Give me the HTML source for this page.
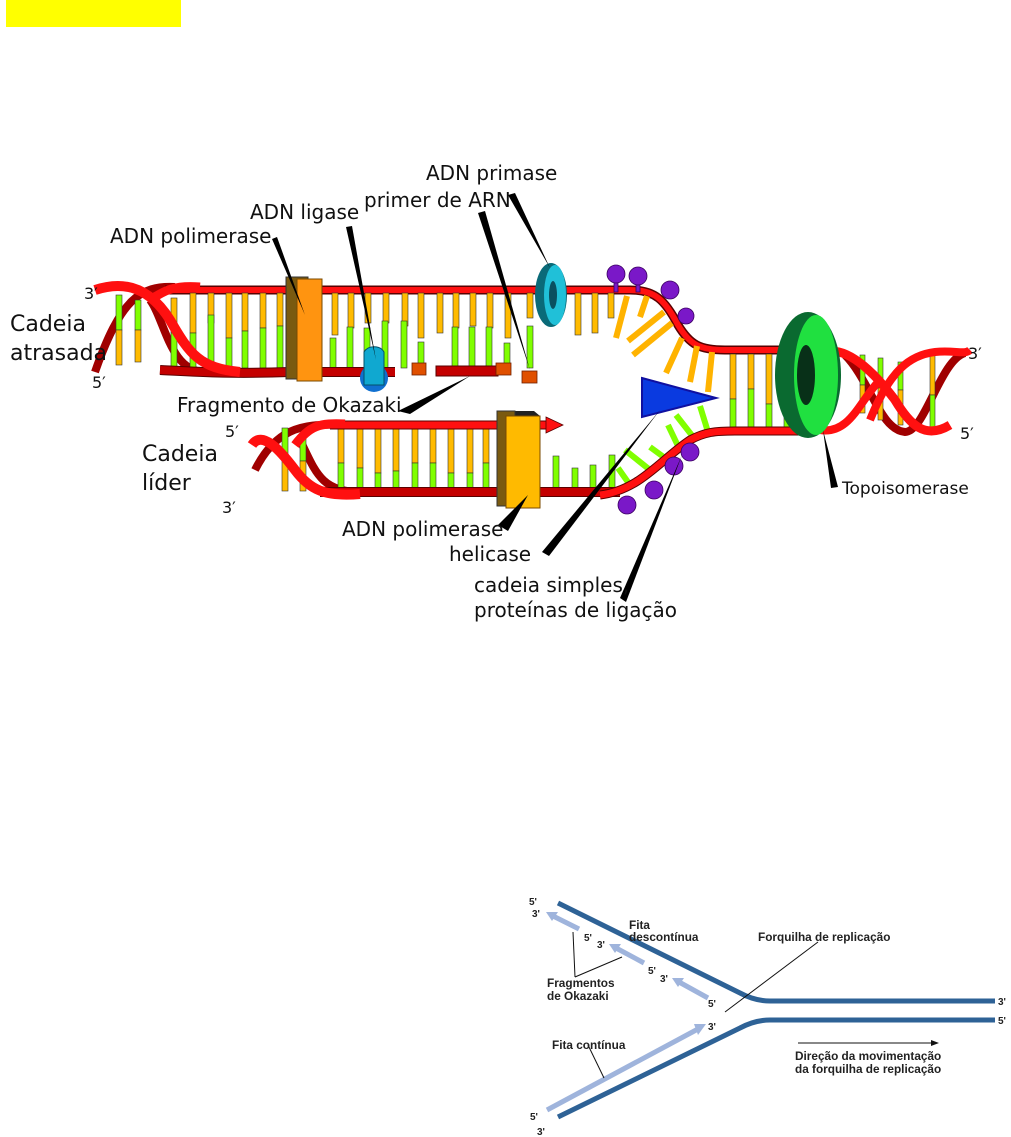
<!DOCTYPE html>
<html><head><meta charset="utf-8"><style>
html,body{margin:0;padding:0;background:#fff;}
svg{display:block;}
.t{font-family:"DejaVu Sans","Liberation Sans",sans-serif;font-size:20px;fill:#111;}
.b{font-family:"Liberation Sans",sans-serif;font-size:11.8px;font-weight:bold;fill:#222;}
</style></head><body>
<svg width="1011" height="1137" viewBox="0 0 1011 1137" xmlns="http://www.w3.org/2000/svg">
<rect x="6" y="0" width="175" height="27" fill="#ffff00"/>

<!-- ===== upper duplex (lagging) ===== -->
<path d="M95,372 C120,300 140,285 175,287" stroke="#a00000" stroke-width="8" fill="none"/>
<path d="M150,300 C165,320 170,372 205,372" stroke="#a00000" stroke-width="8" fill="none"/>
<g stroke="#333" stroke-width="0.6">
<rect x="116" y="295" width="6" height="35" fill="#80ff00"/><rect x="116" y="330" width="6" height="35" fill="#ffbb00"/>
<rect x="135" y="300" width="6" height="30" fill="#80ff00"/><rect x="135" y="330" width="6" height="32" fill="#ffbb00"/>
<rect x="171" y="298" width="6" height="35" fill="#ffbb00"/><rect x="171" y="333" width="6" height="35" fill="#80ff00"/>
</g>
<path d="M165,290 L630,290 C655,290 665,300 678,325 C690,345 700,350 725,350 L810,350" stroke="#5a0000" stroke-width="9" fill="none"/>
<path d="M165,290 L630,290 C655,290 665,300 678,325 C690,345 700,350 725,350 L810,350" stroke="#ff1010" stroke-width="6" fill="none"/>
<g stroke="#333" stroke-width="0.6">
<rect x="190" y="293" width="6" height="40" fill="#ffbb00"/><rect x="190" y="333" width="6" height="35" fill="#80ff00"/>
<rect x="208" y="293" width="6" height="30" fill="#ffbb00"/><rect x="208" y="315" width="6" height="53" fill="#80ff00"/>
<rect x="226" y="293" width="6" height="45" fill="#ffbb00"/><rect x="226" y="338" width="6" height="30" fill="#80ff00"/>
<rect x="242" y="293" width="6" height="38" fill="#ffbb00"/><rect x="242" y="331" width="6" height="37" fill="#80ff00"/>
<rect x="260" y="293" width="6" height="35" fill="#ffbb00"/><rect x="260" y="328" width="6" height="40" fill="#80ff00"/>
<rect x="277" y="293" width="6" height="33" fill="#ffbb00"/><rect x="277" y="326" width="6" height="42" fill="#80ff00"/>
<rect x="332" y="293" width="6" height="42" fill="#ffbb00"/><rect x="330" y="338" width="6" height="30" fill="#80ff00"/>
<rect x="348" y="293" width="6" height="35" fill="#ffbb00"/><rect x="347" y="327" width="6" height="41" fill="#80ff00"/>
<rect x="365" y="293" width="6" height="30" fill="#ffbb00"/><rect x="364" y="328" width="6" height="40" fill="#80ff00"/>
<rect x="383" y="293" width="6" height="30" fill="#ffbb00"/><rect x="382" y="321" width="6" height="47" fill="#80ff00"/>
<rect x="402" y="293" width="6" height="33" fill="#ffbb00"/><rect x="401" y="321" width="6" height="47" fill="#80ff00"/>
<rect x="418" y="293" width="6" height="45" fill="#ffbb00"/><rect x="418" y="342" width="6" height="26" fill="#80ff00"/>
<rect x="437" y="293" width="6" height="40" fill="#ffbb00"/>
<rect x="453" y="293" width="6" height="35" fill="#ffbb00"/><rect x="452" y="327" width="6" height="41" fill="#80ff00"/>
<rect x="470" y="293" width="6" height="33" fill="#ffbb00"/><rect x="469" y="327" width="6" height="41" fill="#80ff00"/>
<rect x="487" y="293" width="6" height="35" fill="#ffbb00"/><rect x="486" y="327" width="6" height="41" fill="#80ff00"/>
<rect x="505" y="293" width="6" height="45" fill="#ffbb00"/><rect x="504" y="343" width="6" height="25" fill="#80ff00"/>
<rect x="527" y="293" width="6" height="25" fill="#ffbb00"/><rect x="527" y="326" width="6" height="42" fill="#80ff00"/>
<rect x="575" y="293" width="6" height="42" fill="#ffbb00"/>
<rect x="592" y="293" width="6" height="40" fill="#ffbb00"/>
<rect x="608" y="293" width="6" height="25" fill="#ffbb00"/>
</g>
<g stroke="#ffb300" stroke-width="6" stroke-linecap="butt">
<line x1="627" y1="296" x2="616" y2="338"/>
<line x1="647" y1="296" x2="640" y2="317"/>
<line x1="664" y1="312" x2="628" y2="341"/>
<line x1="672" y1="323" x2="633" y2="355"/>
<line x1="682" y1="338" x2="666" y2="373"/>
<line x1="697" y1="346" x2="690" y2="382"/>
<line x1="712" y1="352" x2="708" y2="392"/>
</g>
<path d="M160,370 C200,372 230,374 290,372 L395,372" stroke="#5a0000" stroke-width="10" fill="none"/>
<path d="M160,370 C200,372 230,374 290,372 L395,372" stroke="#c40000" stroke-width="8" fill="none"/>
<rect x="436" y="366" width="62" height="10" fill="#c40000" stroke="#5a0000"/>
<path d="M95,290 C125,280 150,288 170,320 C190,355 200,368 240,372" stroke="#ff1010" stroke-width="10" fill="none"/>
<path d="M150,300 C165,290 175,285 200,287" stroke="#ff1010" stroke-width="9" fill="none"/>
<g stroke="#333" stroke-width="0.6">
<rect x="730" y="354" width="6" height="45" fill="#ffbb00"/><rect x="730" y="399" width="6" height="30" fill="#80ff00"/>
<rect x="748" y="354" width="6" height="35" fill="#ffbb00"/><rect x="748" y="389" width="6" height="40" fill="#80ff00"/>
<rect x="766" y="354" width="6" height="50" fill="#ffbb00"/><rect x="766" y="404" width="6" height="25" fill="#80ff00"/>
<rect x="784" y="354" width="6" height="50" fill="#ffbb00"/><rect x="784" y="404" width="6" height="25" fill="#80ff00"/>
<rect x="802" y="354" width="6" height="35" fill="#ffbb00"/><rect x="802" y="389" width="6" height="40" fill="#80ff00"/>
</g>

<!-- ===== lower duplex (leading) ===== -->
<path d="M255,470 C275,430 300,423 340,425" stroke="#a00000" stroke-width="8" fill="none"/>
<path d="M300,440 C315,470 320,492 360,492" stroke="#a00000" stroke-width="8" fill="none"/>
<g stroke="#333" stroke-width="0.6">
<rect x="282" y="428" width="6" height="30" fill="#80ff00"/><rect x="282" y="458" width="6" height="33" fill="#ffbb00"/>
<rect x="300" y="433" width="6" height="28" fill="#80ff00"/><rect x="300" y="461" width="6" height="30" fill="#ffbb00"/>
<rect x="338" y="428" width="6" height="35" fill="#ffbb00"/><rect x="338" y="463" width="6" height="28" fill="#80ff00"/>
<rect x="357" y="428" width="6" height="40" fill="#ffbb00"/><rect x="357" y="468" width="6" height="24" fill="#80ff00"/>
<rect x="375" y="428" width="6" height="45" fill="#ffbb00"/><rect x="375" y="473" width="6" height="19" fill="#80ff00"/>
<rect x="393" y="428" width="6" height="43" fill="#ffbb00"/><rect x="393" y="471" width="6" height="21" fill="#80ff00"/>
<rect x="412" y="428" width="6" height="35" fill="#ffbb00"/><rect x="412" y="463" width="6" height="29" fill="#80ff00"/>
<rect x="430" y="428" width="6" height="35" fill="#ffbb00"/><rect x="430" y="463" width="6" height="29" fill="#80ff00"/>
<rect x="448" y="428" width="6" height="45" fill="#ffbb00"/><rect x="448" y="473" width="6" height="19" fill="#80ff00"/>
<rect x="467" y="428" width="6" height="45" fill="#ffbb00"/><rect x="467" y="473" width="6" height="19" fill="#80ff00"/>
<rect x="483" y="428" width="6" height="35" fill="#ffbb00"/><rect x="483" y="463" width="6" height="29" fill="#80ff00"/>
<rect x="553" y="456" width="6" height="36" fill="#80ff00"/>
<rect x="572" y="468" width="6" height="24" fill="#80ff00"/>
<rect x="590" y="465" width="6" height="27" fill="#80ff00"/>
<rect x="609" y="455" width="6" height="37" fill="#80ff00"/>
</g>
<g stroke="#80ff00" stroke-width="6">
<line x1="630" y1="485" x2="618" y2="468"/>
<line x1="650" y1="470" x2="625" y2="450"/>
<line x1="665" y1="458" x2="650" y2="447"/>
<line x1="678" y1="446" x2="668" y2="425"/>
<line x1="694" y1="438" x2="676" y2="415"/>
<line x1="708" y1="432" x2="700" y2="406"/>
</g>
<path d="M320,492 L620,492" stroke="#5a0000" stroke-width="10" fill="none"/>
<path d="M320,492 L620,492" stroke="#c40000" stroke-width="8" fill="none"/>
<path d="M600,495 C640,490 660,460 690,440 C705,432 715,431 735,431 L810,431" stroke="#5a0000" stroke-width="9" fill="none"/>
<path d="M600,495 C640,490 660,460 690,440 C705,432 715,431 735,431 L810,431" stroke="#ff1010" stroke-width="7" fill="none"/>
<path d="M330,425 L548,425" stroke="#5a0000" stroke-width="9" fill="none"/>
<path d="M330,425 L548,425" stroke="#ff1010" stroke-width="7" fill="none"/>
<polygon points="546,417 563,425 546,433" fill="#ff1010" stroke="#5a0000" stroke-width="0.8"/>
<path d="M252,445 C262,430 280,450 295,470 C310,490 325,497 360,494" stroke="#ff1010" stroke-width="10" fill="none"/>
<path d="M295,445 C310,425 320,423 345,424" stroke="#ff1010" stroke-width="9" fill="none"/>

<!-- right helix -->
<path d="M845,355 C870,380 880,430 905,432 C925,432 940,360 965,353" stroke="#a00000" stroke-width="8" fill="none"/>
<g stroke="#333" stroke-width="0.6">
<rect x="860" y="355" width="5" height="30" fill="#80ff00"/><rect x="860" y="385" width="5" height="28" fill="#ffbb00"/>
<rect x="878" y="358" width="5" height="30" fill="#80ff00"/><rect x="878" y="388" width="5" height="32" fill="#ffbb00"/>
<rect x="898" y="362" width="5" height="28" fill="#80ff00"/><rect x="898" y="390" width="5" height="35" fill="#ffbb00"/>
<rect x="930" y="355" width="5" height="40" fill="#ffbb00"/><rect x="930" y="395" width="5" height="35" fill="#80ff00"/>
</g>
<path d="M825,352 C850,345 880,380 895,400 C910,425 925,440 950,425" stroke="#ff1010" stroke-width="9" fill="none"/>
<path d="M870,420 C890,370 910,355 935,352 C955,350 965,355 970,350" stroke="#ff1010" stroke-width="8" fill="none"/>
<path d="M820,430 C850,435 860,400 880,380" stroke="#ff1010" stroke-width="8" fill="none"/>

<!-- proteins -->
<rect x="286" y="277" width="22" height="102" fill="#7a5a10" stroke="#333"/>
<rect x="297" y="279" width="25" height="102" fill="#ff9410" stroke="#7a4a00"/>
<polygon points="497,411 534,411 540,416 503,416" fill="#222"/>
<rect x="497" y="411" width="18" height="95" fill="#7a5a10" stroke="#333"/>
<rect x="506" y="416" width="34" height="92" fill="#ffba00" stroke="#7a4a00"/>
<ellipse cx="374" cy="378" rx="14" ry="14" fill="#1070d0"/>
<path d="M364,352 C368,345 380,345 384,352 L384,385 L364,385 Z" fill="#10a8d0" stroke="#05506a"/>
<g fill="#e05000" stroke="#702000" stroke-width="0.8">
<rect x="412" y="363" width="14" height="12"/>
<rect x="496" y="363" width="15" height="12"/>
<rect x="522" y="371" width="15" height="12"/>
</g>
<ellipse cx="551" cy="295" rx="16" ry="32" fill="#0a6a78"/>
<ellipse cx="555" cy="295" rx="11" ry="30" fill="#20c0d8"/>
<ellipse cx="553" cy="295" rx="4" ry="14" fill="#0a5060"/>
<g fill="#7a18c8" stroke="#3a0060" stroke-width="0.8">
<rect x="614" y="280" width="4" height="12"/><rect x="636" y="282" width="4" height="10"/>
<circle cx="616" cy="274" r="9"/><circle cx="638" cy="276" r="9"/>
<circle cx="670" cy="290" r="9"/><circle cx="686" cy="316" r="8"/>
<circle cx="690" cy="452" r="9"/><circle cx="674" cy="466" r="9"/>
<circle cx="654" cy="490" r="9"/><circle cx="627" cy="505" r="9"/>
</g>
<ellipse cx="808" cy="375" rx="33" ry="63" fill="#0a6a30"/>
<ellipse cx="816" cy="375" rx="22" ry="60" fill="#20e040"/>
<ellipse cx="806" cy="375" rx="9" ry="30" fill="#083018"/>
<polygon points="642,378 716,398 642,417" fill="#0a3ae0" stroke="#1010a0" stroke-width="2"/>

<g fill="#000">
<polygon points="508,195 515,193 550,268"/>
<polygon points="478,213 485,211 530,370"/>
<polygon points="346,227 352,226 376,360"/>
<polygon points="272,239 277,237 305,315"/>
<polygon points="398,411 410,414 470,376"/>
<polygon points="498,525 508,531 528,495"/>
<polygon points="542,552 549,556 660,410"/>
<polygon points="620,598 626,602 682,455"/>
<polygon points="831,488 838,487 823,430"/>
</g>

<text class="t" x="426" y="180">ADN primase</text>
<text class="t" x="364" y="207">primer de ARN</text>
<text class="t" x="250" y="219">ADN ligase</text>
<text class="t" x="110" y="243">ADN polimerase</text>
<text class="t" x="177" y="412">Fragmento de Okazaki</text>
<text class="t" x="342" y="536">ADN polimerase</text>
<text class="t" x="449" y="561">helicase</text>
<text class="t" x="474" y="592">cadeia simples,</text>
<text class="t" x="474" y="617">proteínas de ligação</text>
<text class="t" x="842" y="494" style="font-size:17px">Topoisomerase</text>
<text class="t" x="84" y="299" style="font-size:16px">3′</text>
<text class="t" x="92" y="388" style="font-size:16px">5′</text>
<text class="t" x="10" y="331" style="font-size:22px">Cadeia</text>
<text class="t" x="10" y="360" style="font-size:22px">atrasada</text>
<text class="t" x="225" y="437" style="font-size:16px">5′</text>
<text class="t" x="222" y="513" style="font-size:16px">3′</text>
<text class="t" x="142" y="461" style="font-size:22px">Cadeia</text>
<text class="t" x="142" y="490" style="font-size:22px">líder</text>
<text class="t" x="968" y="359" style="font-size:16px">3′</text>
<text class="t" x="960" y="439" style="font-size:16px">5′</text>

<!-- ===== bottom schematic ===== -->
<g stroke="#2e6296" stroke-width="5" fill="none" stroke-linecap="butt">
<path d="M558,903 L740,993 Q755,1001 770,1001 L995,1001"/>
<path d="M558,1117 L740,1028 Q755,1020 770,1020 L995,1020"/>
</g>
<g stroke="#9fb4dc" stroke-width="5" fill="none">
<line x1="579" y1="929" x2="553" y2="916"/>
<line x1="644" y1="963" x2="616" y2="948"/>
<line x1="708" y1="998" x2="679" y2="982"/>
<line x1="547" y1="1110" x2="698" y2="1029"/>
</g>
<g fill="#9fb4dc">
<polygon points="546,912 558,912 552,921"/>
<polygon points="609,944 621,944 615,953"/>
<polygon points="672,978 684,978 678,987"/>
<polygon points="706,1024 698,1035 694,1024"/>
</g>
<g stroke="#111" stroke-width="1">
<line x1="573" y1="932" x2="575" y2="977"/>
<line x1="622" y1="957" x2="575" y2="977"/>
<line x1="818" y1="942" x2="725" y2="1012"/>
<line x1="588" y1="1045" x2="604" y2="1078"/>
<line x1="798" y1="1043" x2="933" y2="1043"/>
</g>
<polygon points="931,1040 939,1043 931,1046" fill="#111"/>
<text class="b" x="529" y="905" style="font-size:10px">5'</text>
<text class="b" x="532" y="917" style="font-size:10px">3'</text>
<text class="b" x="584" y="941" style="font-size:10px">5'</text>
<text class="b" x="597" y="948" style="font-size:10px">3'</text>
<text class="b" x="648" y="974" style="font-size:10px">5'</text>
<text class="b" x="660" y="982" style="font-size:10px">3'</text>
<text class="b" x="708" y="1007" style="font-size:10px">5'</text>
<text class="b" x="708" y="1030" style="font-size:10px">3'</text>
<text class="b" x="998" y="1005" style="font-size:10px">3'</text>
<text class="b" x="998" y="1024" style="font-size:10px">5'</text>
<text class="b" x="530" y="1120" style="font-size:10px">5'</text>
<text class="b" x="537" y="1135" style="font-size:10px">3'</text>
<text class="b" x="629" y="929">Fita</text>
<text class="b" x="629" y="941">descontínua</text>
<text class="b" x="758" y="941">Forquilha de replicação</text>
<text class="b" x="547" y="987">Fragmentos</text>
<text class="b" x="547" y="1000">de Okazaki</text>
<text class="b" x="552" y="1049">Fita contínua</text>
<text class="b" x="795" y="1060">Direção da movimentação</text>
<text class="b" x="795" y="1073">da forquilha de replicação</text>
</svg>
</body></html>
